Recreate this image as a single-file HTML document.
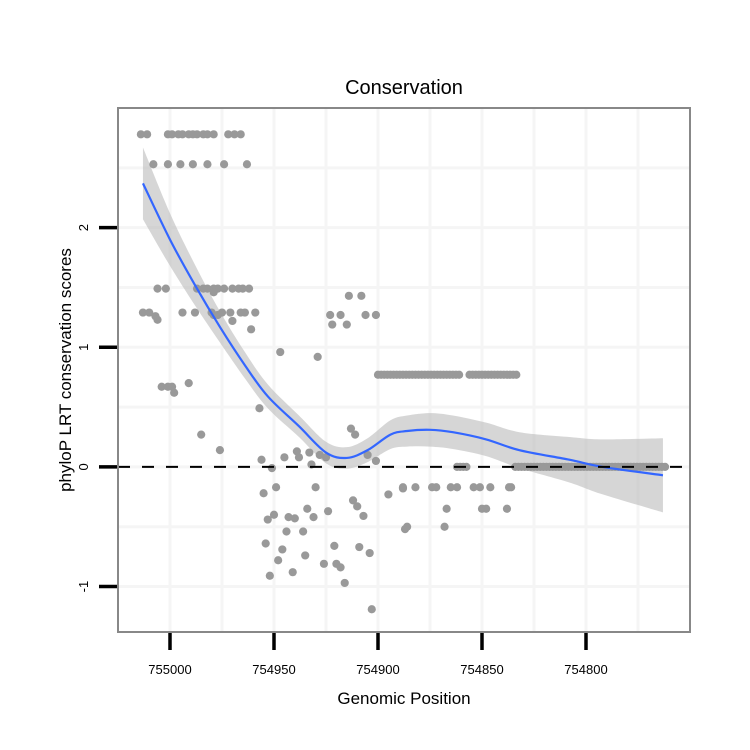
<!DOCTYPE html>
<html><head><meta charset="utf-8"><style>
body{margin:0;background:#fff;}
svg{display:block;font-family:"Liberation Sans",sans-serif;}
</style></head><body>
<svg id="chart" width="750" height="750" viewBox="0 0 750 750" xmlns="http://www.w3.org/2000/svg">
<rect width="750" height="750" fill="#fff"/>
<text x="404" y="94" font-size="20" text-anchor="middle">Conservation</text>
<text x="404" y="704" font-size="17" text-anchor="middle">Genomic Position</text>
<text transform="translate(71,370) rotate(-90)" font-size="17" text-anchor="middle">phyloP LRT conservation scores</text>
<g id="grid"></g><g id="band"></g><g id="pts"></g><g id="fit"></g><g id="axes"></g>
</svg>
<script>
const xTicks=[755000,754950,754900,754850,754800];
const xTickLabels=["755000","754950","754900","754850","754800"];
const yTicks=[2,1,0,-1];
const yTickLabels=["2","1","0","-1"];
// scatter data (genomic position, score)
const pointPos=[755014,755011,755001,754999,754996,754994,754991,754989,754987,754984,754982,754979,754972,754969,754966,
755008,755001,754995,754989,754982,754974,754963,
755006,755002,754987,754984,754982,754979,754977,754974,754970,754967,754965,754962,754979,
755013,755010,755007,755006,754994,754988,754980,754979,754977,754975,754971,754966,754964,754959,754970,
754961,754947,754929,755004,755001,754999,754998,754991,754985,754976,754957,
754956,754951,754945,754939,754938,754933,754932,754928,754925,754913,754911,754905,754901,
754955,754949,754930,754953,754950,754943,754940,754934,754931,754924,754912,754910,754907,754944,754936,754954,754946,754948,754935,754921,754909,754904,754952,754941,754926,754920,754918,754916,754903,754895,754888,754887,
754914,754908,754923,754918,754906,754901,754922,754915];
const pointVal=[2.78,2.78,2.78,2.78,2.78,2.78,2.78,2.78,2.78,2.78,2.78,2.78,2.78,2.78,2.78,
2.53,2.53,2.53,2.53,2.53,2.53,2.53,
1.49,1.49,1.49,1.49,1.49,1.49,1.49,1.49,1.49,1.49,1.49,1.49,1.46,
1.29,1.29,1.26,1.23,1.29,1.29,1.29,1.27,1.27,1.29,1.29,1.29,1.29,1.29,1.22,
1.15,0.96,0.92,0.67,0.67,0.67,0.62,0.70,0.27,0.14,0.49,
0.06,-0.01,0.08,0.13,0.08,0.12,0.02,0.10,0.08,0.32,0.27,0.10,0.05,
-0.22,-0.17,-0.17,-0.44,-0.40,-0.42,-0.43,-0.35,-0.42,-0.37,-0.28,-0.33,-0.41,-0.54,-0.54,-0.64,-0.69,-0.78,-0.74,-0.66,-0.67,-0.72,-0.91,-0.88,-0.81,-0.81,-0.84,-0.97,-1.19,-0.23,-0.18,-0.52,
1.43,1.43,1.27,1.27,1.27,1.27,1.19,1.19];
const row77a=[754900,754861], row77b=[754856,754833];
const row0a=[754862,754857], row0b=[754834,754761];
const rowNeg17Pos=[754888,754882,754874,754872,754865,754862,754854,754851,754846,754837,754836];
const rowNeg35Pos=[754867,754850,754848,754838];
const rowNeg50Pos=[754886,754868];
// loess fit
const fitPos=[755013,755000,754988,754976,754964,754953,754938,754925,754915,754905,754894,754886,754875,754864,754848,754832,754808,754792,754763];
const fitVal=[2.37,1.90,1.52,1.17,0.85,0.59,0.34,0.12,0.075,0.14,0.27,0.30,0.31,0.29,0.23,0.14,0.06,0.0,-0.07];
const fitHalf=[0.30,0.22,0.17,0.13,0.11,0.10,0.09,0.09,0.09,0.10,0.12,0.13,0.14,0.14,0.14,0.15,0.19,0.23,0.31];

const L=118,R=690,T=108,B=632;
const xMin=755025,xMax=754750,yMin=-1.38,yMax=3.0;
const sx=v=>L+(xMin-v)/(xMin-xMax)*(R-L);
const sy=v=>B-(v-yMin)/(yMax-yMin)*(B-T);
const NS="http://www.w3.org/2000/svg";
function mk(tag,attrs,parent){const e=document.createElementNS(NS,tag);for(const k in attrs)e.setAttribute(k,attrs[k]);parent.appendChild(e);return e;}

const grid=document.getElementById('grid');
for(let i=0;i<xTicks.length;i++){
  const g=mk('line',{x1:sx(xTicks[i]),x2:sx(xTicks[i]),y1:T,y2:B,stroke:'#f5f5f5','stroke-width':3},grid);
  
  const m=xTicks[i]-25;
  const g2=mk('line',{x1:sx(m),x2:sx(m),y1:T,y2:B,stroke:'#f5f5f5','stroke-width':3},grid);
  
}
for(let i=0;i<yTicks.length;i++){
  const g=mk('line',{x1:L,x2:R,y1:sy(yTicks[i]),y2:sy(yTicks[i]),stroke:'#f5f5f5','stroke-width':3},grid);
  
  const g2=mk('line',{x1:L,x2:R,y1:sy(yTicks[i]+0.5),y2:sy(yTicks[i]+0.5),stroke:'#f5f5f5','stroke-width':3},grid);
  
}

const pts=document.getElementById('pts');
function dot(p,v){const c=mk('circle',{cx:sx(p),cy:sy(v),r:4.1,fill:'#999999'},pts);
  }
for(let i=0;i<pointPos.length;i++)dot(pointPos[i],pointVal[i]);
function run(r,v){for(let p=r[0];p>=r[1];p-=1.5)dot(p,v);}
run(row77a,0.77);run(row77b,0.77);run(row0a,0);run(row0b,0);
rowNeg17Pos.forEach(p=>dot(p,-0.17));
rowNeg35Pos.forEach(p=>dot(p,-0.35));
rowNeg50Pos.forEach(p=>dot(p,-0.50));

const z=mk('line',{x1:L,x2:R-8,y1:sy(0),y2:sy(0),stroke:'#000','stroke-width':2,'stroke-dasharray':'12 12'},document.getElementById('axes'));


function smooth(P){let d='M'+P[0][0]+','+P[0][1];
  for(let i=0;i<P.length-1;i++){const p0=P[Math.max(0,i-1)],p1=P[i],p2=P[i+1],p3=P[Math.min(P.length-1,i+2)];
    d+='C'+(p1[0]+(p2[0]-p0[0])/6)+','+(p1[1]+(p2[1]-p0[1])/6)+' '+(p2[0]-(p3[0]-p1[0])/6)+','+(p2[1]-(p3[1]-p1[1])/6)+' '+p2[0]+','+p2[1];}
  return d;}
const hi=fitPos.map((p,i)=>[sx(p),sy(fitVal[i]+fitHalf[i])]);
const lo=fitPos.map((p,i)=>[sx(p),sy(fitVal[i]-fitHalf[i])]).reverse();
const bd=smooth(hi)+'L'+smooth(lo).slice(1)+'Z';
const band=mk('path',{d:bd,fill:'#bbbbbb','fill-opacity':0.6},document.getElementById('band'));

const fit=mk('path',{d:smooth(fitPos.map((p,i)=>[sx(p),sy(fitVal[i])])),fill:'none',stroke:'#3366ff','stroke-width':2.2},document.getElementById('fit'));


const ax=document.getElementById('axes');
const fr=mk('rect',{x:L,y:T,width:R-L,height:B-T,fill:'none',stroke:'#888','stroke-width':2},ax);

xTicks.forEach((t,i)=>{
  const l=mk('line',{x1:sx(t),x2:sx(t),y1:B+1,y2:B+18,stroke:'#000','stroke-width':3.5},ax);
  
  const tx=mk('text',{x:sx(t),y:B+42,'font-size':13,'text-anchor':'middle'},ax);tx.textContent=xTickLabels[i];
  
});
yTicks.forEach((t,i)=>{
  const l=mk('line',{x1:99,x2:L-1,y1:sy(t),y2:sy(t),stroke:'#000','stroke-width':3.5},ax);
  
  const tx=mk('text',{transform:`translate(88,${sy(t)}) rotate(-90)`,'font-size':13,'text-anchor':'middle'},ax);tx.textContent=yTickLabels[i];
  
});
</script>
</body></html>
